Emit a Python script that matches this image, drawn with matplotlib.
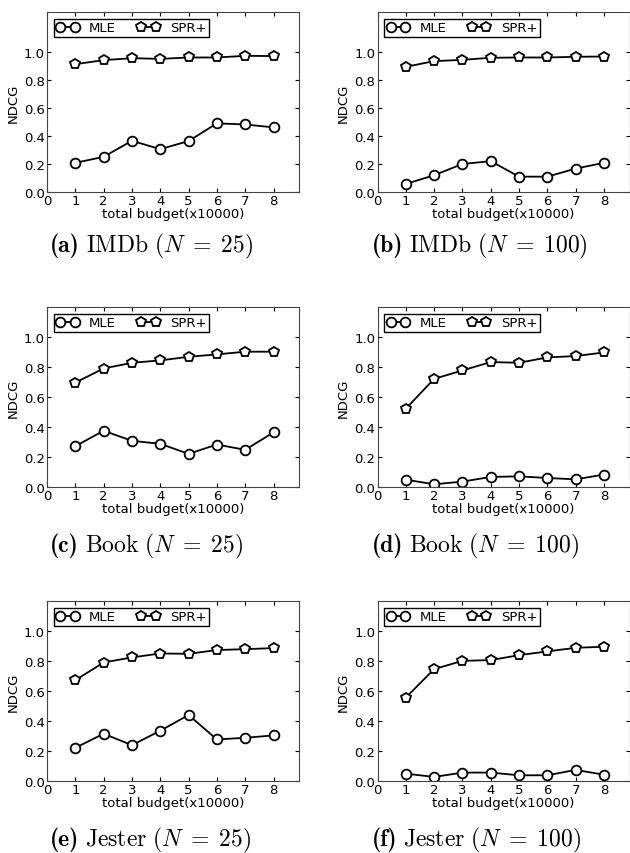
import os
import matplotlib
import matplotlib.pyplot as plt
from matplotlib.font_manager import FontProperties
import numpy as np

plt.rcParams['mathtext.fontset'] = 'cm'
plt.rcParams['font.family'] = 'DejaVu Sans'
plt.rcParams['xtick.direction'] = 'in'
plt.rcParams['ytick.direction'] = 'in'
plt.rcParams['xtick.top'] = True
plt.rcParams['ytick.right'] = True
plt.rcParams['xtick.major.size'] = 3
plt.rcParams['ytick.major.size'] = 3

budget = [1, 2, 3, 4, 5, 6, 7, 8]

# NDCG per dataset / N
mle_imdb25 = [0.209, 0.252, 0.367, 0.307, 0.365, 0.492, 0.484, 0.463]
spr_imdb25 = [0.916, 0.945, 0.959, 0.954, 0.964, 0.964, 0.976, 0.974]
mle_imdb100 = [0.058, 0.120, 0.201, 0.221, 0.110, 0.110, 0.168, 0.209]
spr_imdb100 = [0.897, 0.938, 0.947, 0.962, 0.964, 0.964, 0.969, 0.971]
mle_book25 = [0.272, 0.375, 0.308, 0.288, 0.221, 0.283, 0.248, 0.364]
spr_book25 = [0.696, 0.790, 0.828, 0.844, 0.868, 0.884, 0.902, 0.902]
mle_book100 = [0.049, 0.018, 0.036, 0.067, 0.071, 0.060, 0.051, 0.083]
spr_book100 = [0.522, 0.721, 0.777, 0.833, 0.828, 0.864, 0.873, 0.897]
mle_jester25 = [0.221, 0.315, 0.239, 0.335, 0.440, 0.277, 0.288, 0.304]
spr_jester25 = [0.672, 0.790, 0.824, 0.850, 0.848, 0.873, 0.879, 0.886]
mle_jester100 = [0.049, 0.027, 0.056, 0.056, 0.038, 0.038, 0.074, 0.042]
spr_jester100 = [0.556, 0.746, 0.801, 0.806, 0.839, 0.864, 0.888, 0.895]

tags = ['(a)', '(b)', '(c)', '(d)', '(e)', '(f)']
captions = [r'$\mathrm{IMDb}\ (N\;=\;25)$', r'$\mathrm{IMDb}\ (N\;=\;100)$',
            r'$\mathrm{Book}\ (N\;=\;25)$', r'$\mathrm{Book}\ (N\;=\;100)$',
            r'$\mathrm{Jester}\ (N\;=\;25)$', r'$\mathrm{Jester}\ (N\;=\;100)$']
series = [(mle_imdb25, spr_imdb25), (mle_imdb100, spr_imdb100),
          (mle_book25, spr_book25), (mle_book100, spr_book100),
          (mle_jester25, spr_jester25), (mle_jester100, spr_jester100)]

bold_cm = FontProperties(fname=os.path.join(matplotlib.get_data_path(), 'fonts', 'ttf', 'cmb10.ttf'), size=17)

W, H = 630, 854
fig = plt.figure(figsize=(W / 100, H / 100), dpi=100)
renderer = fig.canvas.get_renderer()

lefts = [47, 377.5]
tops = [13, 308, 602]
ytops = [1.29, 1.2, 1.2]
cap_y = [252, 552, 846]   # baselines
cap_x = [50, 372]

fs = 9.5
for i, (mle, spr) in enumerate(series):
    r, c = divmod(i, 2)
    ax = fig.add_axes([lefts[c] / W, 1 - (tops[r] + 180) / H, 252 / W, 180 / H])
    ax.plot(budget, mle, '-o', color='black', mfc='white', mec='black', ms=7, mew=1.3, lw=1.3, label='MLE')
    ax.plot(budget, spr, '-p', color='black', mfc='white', mec='black', ms=7.5, mew=1.3, lw=1.3, label='SPR+')
    ax.set_xlim(0, 8.9)
    ax.set_ylim(0, ytops[r])
    ax.set_xticks(range(9))
    ax.set_yticks(np.arange(0, 1.01, 0.2))
    ax.tick_params(labelsize=fs, pad=1.5)
    ax.set_xlabel('total budget(x10000)', fontsize=fs, labelpad=0)
    ax.set_ylabel('NDCG', fontsize=fs, labelpad=3)
    for s in ax.spines.values():
        s.set_color('#444444')
    leg = ax.legend(loc='upper left', ncol=2, numpoints=2, fontsize=fs, fancybox=False,
                    edgecolor='black', framealpha=1, handlelength=1.7, handletextpad=0.8,
                    columnspacing=1.6, borderpad=0.2, borderaxespad=0.5)
    leg.get_frame().set_linewidth(1.0)

    # sub-caption: bold tag followed by the dataset name, on a shared baseline
    yb = 1 - cap_y[r] / H
    t = fig.text(cap_x[c] / W, yb, tags[i], fontproperties=bold_cm, ha='left', va='baseline')
    x_end = t.get_window_extent(renderer).x1
    fig.text((x_end + 6) / W, yb, captions[i], fontsize=17, ha='left', va='baseline')

fig.savefig('out.png', dpi=100)
